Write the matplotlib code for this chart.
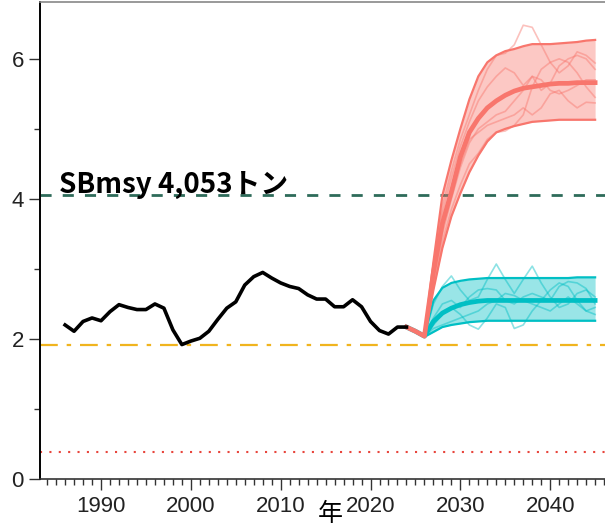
import matplotlib
matplotlib.use("Agg")
import matplotlib.pyplot as plt
from matplotlib.ticker import MultipleLocator

plt.rcParams['font.family'] = ['Liberation Sans', 'DejaVu Sans']

# 過去の親魚量（千トン）
hist_years = list(range(1986, 2025))
hist_sb = [2.20, 2.11, 2.25, 2.30, 2.26, 2.39, 2.49, 2.45, 2.42, 2.42,
           2.50, 2.44, 2.13, 1.92, 1.97, 2.01, 2.11, 2.28, 2.44, 2.53,
           2.77, 2.89, 2.95, 2.87, 2.80, 2.75, 2.72, 2.63, 2.57, 2.57,
           2.46, 2.46, 2.56, 2.46, 2.25, 2.12, 2.07, 2.17, 2.17]

# 将来予測
proj_years = list(range(2024, 2046))

red_med = [2.17, 2.11, 2.04, 2.95, 3.65, 4.10, 4.60, 4.95, 5.15, 5.30, 5.40,
           5.48, 5.54, 5.58, 5.60, 5.62, 5.64, 5.65, 5.65, 5.66, 5.66, 5.66]
red_hi = [2.17, 2.11, 2.05, 3.10, 4.05, 4.55, 5.00, 5.42, 5.75, 5.95, 6.05,
          6.11, 6.14, 6.18, 6.21, 6.21, 6.21, 6.22, 6.23, 6.24, 6.26, 6.27]
red_lo = [2.17, 2.11, 2.03, 2.70, 3.30, 3.75, 4.08, 4.38, 4.62, 4.82, 4.95,
          5.00, 5.04, 5.07, 5.10, 5.11, 5.12, 5.13, 5.13, 5.13, 5.13, 5.13]
red_sims = [
    [2.17, 2.11, 2.04, 3.05, 3.90, 4.40, 4.85, 5.20, 5.55, 5.85, 6.05,
     6.08, 6.20, 6.48, 6.45, 6.20, 5.95, 5.80, 5.90, 6.10, 6.05, 5.94],
    [2.17, 2.11, 2.04, 3.00, 3.80, 4.30, 4.75, 5.10, 5.40, 5.60, 5.75,
     5.87, 5.80, 5.62, 5.75, 5.55, 5.65, 5.90, 6.00, 6.05, 6.00, 5.85],
    [2.17, 2.11, 2.04, 2.85, 3.50, 4.00, 4.45, 4.80, 5.00, 5.10, 5.20,
     5.25, 5.40, 5.55, 5.75, 5.70, 5.55, 5.50, 5.55, 5.62, 5.70, 5.70],
    [2.17, 2.11, 2.04, 2.75, 3.40, 3.85, 4.20, 4.50, 4.65, 4.85, 4.95,
     4.97, 5.05, 5.20, 5.60, 5.85, 5.95, 6.00, 5.95, 5.80, 5.60, 5.45],
    [2.17, 2.11, 2.04, 2.90, 3.60, 4.10, 4.50, 4.85, 4.95, 5.05, 5.10,
     5.15, 5.20, 5.30, 5.20, 5.30, 5.50, 5.55, 5.40, 5.30, 5.38, 5.37],
]

teal_med = [2.17, 2.11, 2.04, 2.25, 2.37, 2.44, 2.49, 2.52, 2.54, 2.55, 2.55,
            2.55, 2.55, 2.55, 2.55, 2.55, 2.55, 2.55, 2.55, 2.55, 2.55, 2.55]
teal_hi = [2.17, 2.11, 2.05, 2.55, 2.73, 2.80, 2.83, 2.85, 2.86, 2.87, 2.87,
           2.87, 2.87, 2.87, 2.87, 2.87, 2.87, 2.87, 2.87, 2.88, 2.88, 2.88]
teal_lo = [2.17, 2.11, 2.03, 2.10, 2.17, 2.20, 2.22, 2.24, 2.25, 2.26, 2.26,
           2.26, 2.26, 2.26, 2.26, 2.26, 2.26, 2.26, 2.26, 2.26, 2.26, 2.26]
teal_sims = [
    [2.17, 2.11, 2.04, 2.50, 2.75, 2.90, 2.70, 2.55, 2.60, 2.85, 3.07,
     2.85, 2.65, 2.85, 3.04, 2.80, 2.60, 2.45, 2.50, 2.65, 2.70, 2.60],
    [2.17, 2.11, 2.04, 2.20, 2.35, 2.45, 2.35, 2.20, 2.14, 2.30, 2.50,
     2.45, 2.15, 2.20, 2.40, 2.55, 2.70, 2.80, 2.75, 2.55, 2.40, 2.45],
    [2.17, 2.11, 2.04, 2.30, 2.50, 2.55, 2.45, 2.60, 2.70, 2.72, 2.70,
     2.55, 2.50, 2.60, 2.65, 2.60, 2.55, 2.75, 2.82, 2.80, 2.72, 2.50],
    [2.17, 2.11, 2.04, 2.15, 2.20, 2.25, 2.30, 2.35, 2.40, 2.50, 2.55,
     2.65, 2.62, 2.55, 2.50, 2.45, 2.40, 2.50, 2.60, 2.50, 2.40, 2.35],
]

sb_msy = 4.053
sb_lim = 1.914
sb_ban = 0.386

red = '#f8766d'
teal = '#00bfc4'

fig = plt.figure(figsize=(6.05, 5.27), dpi=100)
ax = fig.add_axes([0.066, 0.091, 0.934, 0.905])

# 管理基準値の線
ax.axhline(sb_msy, color='#2e6b5a', lw=2, ls=(0, (4, 4)))
ax.axhline(sb_lim, color='#f0b41e', lw=1.6, ls=(0, (8, 4, 2, 4)))
ax.axhline(sb_ban, color='#e8453c', lw=1.5, ls=(0, (1, 3.5)))

# 予測：青緑
ax.fill_between(proj_years, teal_lo, teal_hi, color=teal, alpha=0.4, lw=0)
for s in teal_sims:
    ax.plot(proj_years, s, color=teal, lw=1.2, alpha=0.45)
ax.plot(proj_years, teal_hi, color=teal, lw=1.6)
ax.plot(proj_years, teal_lo, color=teal, lw=1.6)
ax.plot(proj_years, teal_med, color=teal, lw=3.4)

# 予測：赤
ax.fill_between(proj_years, red_lo, red_hi, color=red, alpha=0.4, lw=0)
for s in red_sims:
    ax.plot(proj_years, s, color=red, lw=1.2, alpha=0.45)
ax.plot(proj_years, red_hi, color=red, lw=1.6)
ax.plot(proj_years, red_lo, color=red, lw=1.6)
ax.plot(proj_years, red_med, color=red, lw=3.4)

# 実績
ax.plot(hist_years, hist_sb, color='black', lw=2.6)

ax.text(1985.3, 4.09, 'SBmsy 4,053トン', fontsize=20, fontweight='bold',
        va='baseline', ha='left', family=['Noto Sans CJK JP', 'DejaVu Sans'])

ax.set_xlim(1983.2, 2046.1)
ax.set_ylim(0, 6.81)
ax.xaxis.set_major_locator(MultipleLocator(10))
ax.xaxis.set_minor_locator(MultipleLocator(1))
ax.yaxis.set_major_locator(MultipleLocator(2))
ax.yaxis.set_minor_locator(MultipleLocator(1))
ax.tick_params(which='major', length=8, width=1, labelsize=16,
               labelcolor='#222222', color='#333333')
ax.tick_params(which='minor', length=4.5, width=1, color='#333333')
ax.tick_params(axis='x', pad=4)

ax.spines['right'].set_visible(False)
ax.spines['left'].set_color('black')
ax.spines['left'].set_linewidth(1.4)
ax.spines['bottom'].set_color('#333333')
ax.spines['bottom'].set_linewidth(1.2)
ax.spines['top'].set_color('#888888')
ax.spines['top'].set_linewidth(1.2)

fig.text(330 / 605, 1 - 514 / 527, '年', fontsize=18, ha='center', va='center',
         family=['Noto Sans CJK JP', 'DejaVu Sans'])

fig.savefig('out.png', dpi=100)
